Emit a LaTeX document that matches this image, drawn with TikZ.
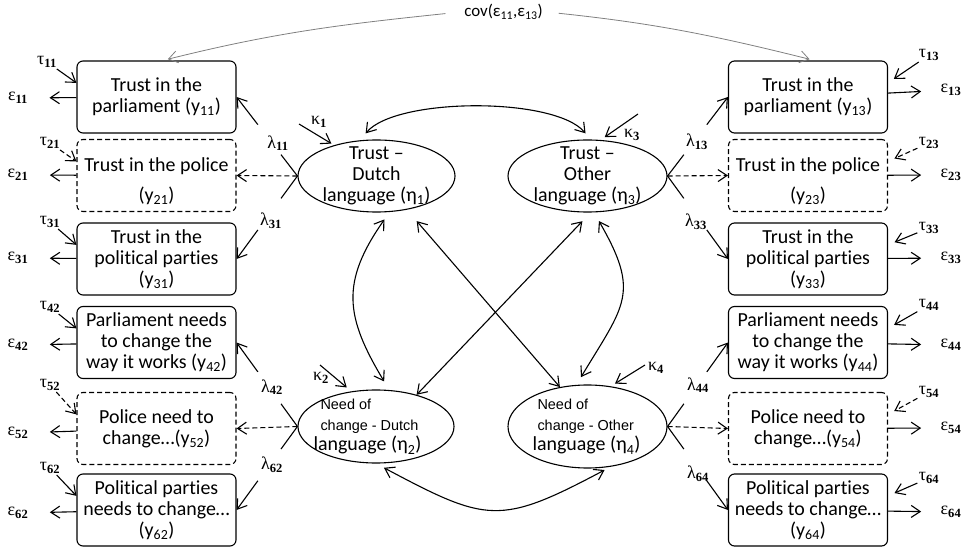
\documentclass[tikz,border=0pt]{standalone}
\usepackage{fontspec}
\setmainfont{Carlito}[Ligatures=NoCommon]
\newfontfamily\arialfont{Liberation Sans}
\newfontfamily\grkfont{Liberation Serif}
\usetikzlibrary{shapes.geometric,arrows.meta,calc}

\newcommand{\glab}[2]{{\grkfont #1\textsubscript{\bfseries #2}}}
\newcommand{\yy}[1]{y\textsubscript{#1}}
\newcommand{\smallsans}{\arialfont\fontsize{14.5}{18}\selectfont}

\tikzset{
	>={Straight Barb[length=9bp,width=12bp]},
	dashline/.style={dash pattern=on 5bp off 3bp},
	obs/.style={draw, rounded corners=6bp, minimum width=159bp, minimum height=72bp,
		inner sep=0pt, align=center, font=\fontsize{20}{21}\selectfont},
	obsdash/.style={obs, dashline},
	latent/.style={draw, ellipse, inner sep=0pt},
	lattext/.style={align=center, font=\fontsize{20}{21}\selectfont},
	grk/.style={font=\fontsize{18}{20}\selectfont, inner sep=1bp},
	covline/.style={gray, line width=0.8bp},
}

\begin{document}
\begin{tikzpicture}[x=1bp,y=1bp,line width=1.1bp]

	\path[use as bounding box] (0,0) rectangle (966,-549);

	% latent variables
	\node[latent, minimum width=157bp, minimum height=72bp] (eta1) at (376.5,-176) {};
	\node[latent, minimum width=159bp, minimum height=72bp] (eta3) at (587.5,-176) {};
	\node[latent, minimum width=156bp, minimum height=73bp] (eta2) at (376,-426.5) {};
	\node[latent, minimum width=159bp, minimum height=83bp] (eta4) at (587.5,-426.5) {};

	\node[lattext] (eta1t) at (eta1) {Trust --\\Dutch\\language (η\textsubscript{1})};
	\node[lattext] (eta3t) at (eta3) {Trust --\\Other\\language (η\textsubscript{3})};
	\node[lattext, align=left, xshift=-5bp] (eta2t) at (eta2)
		{{\smallsans Need of}\\{\smallsans change - Dutch}\\\hspace*{-7bp}language (η\textsubscript{2})};
	\node[lattext, align=left, xshift=1.5bp] (eta4t) at (eta4)
		{{\smallsans Need of}\\{\smallsans change - Other}\\\hspace*{-5bp}language (η\textsubscript{4})};

	% indicators, left
	\node[obs]     (y11) at (156.5,-97)    {Trust in the\\parliament (\yy{11})};
	\node[obsdash] (y21) at (156.5,-175.5) {\rule{0pt}{26bp}Trust in the police\\[9bp](\yy{21})};
	\node[obs]     (y31) at (156.5,-259)   {Trust in the\\political parties\\(\yy{31})};
	\node[obs]     (y42) at (156.5,-342.5) {Parliament needs\\to change the\\way it works (\yy{42})};
	\node[obsdash] (y52) at (156.5,-428.5) {Police need to\\change…(\yy{52})};
	\node[obs]     (y62) at (156.5,-510)   {Political parties\\needs to change…\\(\yy{62})};

	% indicators, right
	\node[obs]     (y13) at (808,-97)    {Trust in the\\parliament (\yy{13})};
	\node[obsdash] (y23) at (808,-175.5) {\rule{0pt}{26bp}Trust in the police\\[9bp](\yy{23})};
	\node[obs]     (y33) at (808,-259)   {Trust in the\\political parties\\(\yy{33})};
	\node[obs]     (y44) at (808,-342.5) {Parliament needs\\to change the\\way it works (\yy{44})};
	\node[obsdash] (y54) at (808,-428.5) {Police need to\\change…(\yy{54})};
	\node[obs]     (y64) at (808,-510)   {Political parties\\needs to change…\\(\yy{64})};

	% error terms
	\node[grk] (e11) at (18,-98)  {\glab{ε}{11}};
	\node[grk] (e21) at (18,-175) {\glab{ε}{21}};
	\node[grk] (e31) at (18,-258) {\glab{ε}{31}};
	\node[grk] (e42) at (18,-345) {\glab{ε}{42}};
	\node[grk] (e52) at (18,-433) {\glab{ε}{52}};
	\node[grk] (e62) at (18,-513) {\glab{ε}{62}};
	\node[grk] (e13) at (951,-90)  {\glab{ε}{13}};
	\node[grk] (e23) at (951,-175) {\glab{ε}{23}};
	\node[grk] (e33) at (951,-258) {\glab{ε}{33}};
	\node[grk] (e44) at (951,-345) {\glab{ε}{44}};
	\node[grk] (e54) at (951,-428) {\glab{ε}{54}};
	\node[grk] (e64) at (951,-512) {\glab{ε}{64}};

	\foreach \b/\e in {y11/e11,y21/e21,y31/e31,y42/e42,y52/e52,y62/e62}
		\draw[->, shorten >=20bp] (\b) -- (\e);
	\foreach \b/\e in {y13/e13,y23/e23,y33/e33,y44/e44,y54/e54,y64/e64}
		\draw[->, shorten >=18bp] (\b) -- (\e);

	% intercepts
	\node[grk] (t11) at (47,-62)  {\glab{τ}{11}};
	\node[grk] (t21) at (50,-143) {\glab{τ}{21}};
	\node[grk] (t31) at (50,-222) {\glab{τ}{31}};
	\node[grk] (t42) at (50,-307) {\glab{τ}{42}};
	\node[grk] (t52) at (50,-385) {\glab{τ}{52}};
	\node[grk] (t62) at (50,-468) {\glab{τ}{62}};
	\node[grk] (t13) at (929,-55)  {\glab{τ}{13}};
	\node[grk] (t23) at (929,-143) {\glab{τ}{23}};
	\node[grk] (t33) at (929,-228) {\glab{τ}{33}};
	\node[grk] (t44) at (929,-305) {\glab{τ}{44}};
	\node[grk] (t54) at (929,-392) {\glab{τ}{54}};
	\node[grk] (t64) at (929,-478) {\glab{τ}{64}};

	\foreach \t/\b in {t11/y11,t31/y31,t42/y42,t62/y62}
		\draw[->] (\t) -- (\b.170);
	\foreach \t/\b in {t21/y21,t52/y52}
		\draw[->, dashline] (\t) -- (\b.170);
	\foreach \t/\b in {t13/y13,t33/y33,t44/y44,t64/y64}
		\draw[->, shorten >=7bp] (\t) -- (\b.10);
	\foreach \t/\b in {t23/y23,t54/y54}
		\draw[->, dashline, shorten >=7bp] (\t) -- (\b.10);

	% loadings
	\node[grk] (l11) at (278,-143) {\glab{λ}{11}};
	\node[grk] (l31) at (271,-221) {\glab{λ}{31}};
	\node[grk] (l42) at (272,-387) {\glab{λ}{42}};
	\node[grk] (l62) at (272,-465) {\glab{λ}{62}};
	\node[grk] (l13) at (697,-142) {\glab{λ}{13}};
	\node[grk] (l33) at (696,-222) {\glab{λ}{33}};
	\node[grk] (l44) at (698,-385) {\glab{λ}{44}};
	\node[grk] (l64) at (698,-474) {\glab{λ}{64}};

	\foreach \e/\b in {eta1/y11,eta1/y31,eta2/y42,eta2/y62} {
		\draw (\e.west) -- ($(\e.west)!.27!(\b.east)$);
		\draw[->] ($(\e.west)!.65!(\b.east)$) -- (\b.east);
	}
	\foreach \e/\b in {eta3/y13,eta3/y33,eta4/y44,eta4/y64} {
		\draw (\e.east) -- ($(\e.east)!.27!(\b.west)$);
		\draw[->] ($(\e.east)!.65!(\b.west)$) -- (\b.west);
	}
	\draw[->, dashline] (eta1.west) -- (y21.east);
	\draw[->, dashline] (eta2.west) -- (y52.east);
	\draw[->, dashline] (eta3.east) -- (y23.west);
	\draw[->, dashline] (eta4.east) -- (y54.west);

	% disturbances
	\coordinate (k1s) at (299,-124);
	\coordinate (k2s) at (320,-365);
	\coordinate (k3s) at (638,-114);
	\coordinate (k4s) at (645,-365);
	\node[grk] (k1) at (319,-122) {\glab{κ}{1}};
	\node[grk] (k2) at (321,-378) {\glab{κ}{2}};
	\node[grk] (k3) at (632,-135) {\glab{κ}{3}};
	\node[grk] (k4) at (656,-368) {\glab{κ}{4}};
	\draw[->, shorten >=3bp] (k1s) -- (eta1.144);
	\draw[->, shorten >=6bp] (k2s) -- (eta2.125);
	\draw[->, shorten >=5bp] (k3s) -- (eta3.70);
	\draw[->, shorten >=5bp] (k4s) -- (eta4.60);

	% covariances between latent variables
	\draw[<->, shorten <=9bp, shorten >=8bp] (eta1.115) to[out=50,in=130,looseness=0.62] (eta3.85);
	\draw[<->, shorten <=9bp, shorten >=7bp] (eta2.-90) to[out=-28,in=-152,looseness=1.37] (eta4.-60);
	\draw[<->, shorten <=9bp, shorten >=10bp] (eta1.-70) to[out=-125,in=121,looseness=1.23] (eta2.70);
	\draw[<->, shorten <=10bp, shorten >=9bp] (eta3.-80) to[out=-60,in=59,looseness=1.38] (eta4.105);
	\draw[<->, shorten <=15bp] (eta1.-48) -- (eta4.125);
	\draw[<->, shorten <=12bp] (eta3.-85) -- (eta2.38);

	% correlated errors
	\node[font=\fontsize{17}{19}\selectfont] (cov) at (503.5,-12) {cov(ε\textsubscript{11},ε\textsubscript{13})};
	\draw[covline, ->, shorten <=15bp, shorten >=5bp] (cov.west) to[out=186,in=14] (y11.80);
	\draw[covline, ->, shorten <=12bp, shorten >=5bp] (cov.east) to[out=-6,in=166] (y13.80);

\end{tikzpicture}
\end{document}
